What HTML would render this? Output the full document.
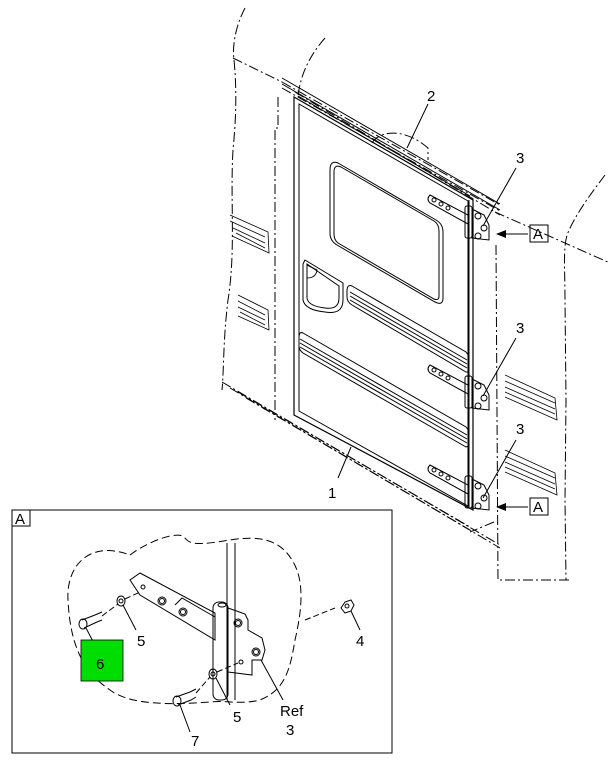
<!DOCTYPE html>
<html><head><meta charset="utf-8"><style>
html,body{margin:0;padding:0;background:#fff;width:610px;height:761px;overflow:hidden}
svg{display:block}
text{font-family:"Liberation Sans",sans-serif;font-size:15px;fill:#000}
</style></head><body>
<svg width="610" height="761" viewBox="0 0 610 761" xmlns="http://www.w3.org/2000/svg">
<g fill="none" stroke="#000" stroke-width="1">
<g stroke-dasharray="10,3,2,3">
<path d="M245,8 C236,25 232,45 234,60 C237,90 236,120 233,150 C230,200 236,250 228,300 C223,340 224,370 222,390"/>
<path d="M325,38 C310,55 300,75 298,97"/>
<path d="M233,58 L282,82"/>
<path d="M278,97 L278,128 L275,128 L275,420"/>
<path d="M222,382 L500,545"/>
<path d="M230,388 L500,548"/>
<path d="M238,392 L470,527"/>
<path d="M246,398 L470,530"/>
<path d="M282,82 L500,205"/>
<path d="M282,88 L500,211"/>
<path d="M295,92 L500,215"/>
<path d="M495,212 L610,263"/>
<path d="M605,175 C590,195 575,215 567,235 C563,250 565,270 565,300 L566,400 L565,500 L566,580"/>
<path d="M496,245 L498,580 L570,580"/>
<path d="M494,522 L470,532"/>
<path d="M372,143 C380,130 405,128 428,148 L428,160"/>
</g>
<g stroke-width="0.8">
<path d="M230,215 L268,232 L269,253 L232,236"/>
<path d="M230,221 L265,237 M233,228 L265,243 M236,233 L265,248"/>
<path d="M238,295 L268,310 L269,330 L238,316"/>
<path d="M238,301 L265,315 M238,307 L265,320 M240,312 L265,325"/>
<path d="M505,375 L555,398 L557,420 L505,397"/>
<path d="M505,381 L555,403 M505,387 L555,409 M505,392 L555,414"/>
<path d="M505,450 L555,473 L557,495 L505,472"/>
<path d="M505,456 L555,478 M505,462 L555,484 M505,467 L555,489"/>
</g>
<path d="M294,97 L473,200 L473,510 L294,415 Z" stroke-width="1.2"/>
<path d="M299,104 L468,201 L468,506 L299,411 Z"/>
<path d="M469,200 L469,508"/>
<path d="M282,78 L500,204 M282,84 L500,210 M298,96 L470,196"/>
<path d="M338,163 L436,220 Q443,224 443,232 L443,298 Q443,306 435,302 L337,245 Q330,241 330,233 L330,170 Q330,160 338,163 Z"/>
<path d="M341,167 L434,221 Q439,224 439,231 L439,296 Q439,301 434,299 L338,243 Q334,240 334,234 L334,172 Q334,164 341,167 Z"/>
<path d="M305,260 L343,283 L343,300 Q343,315 325,312 Q305,310 303,300 L303,264 Z"/>
<path d="M307,264 L339,286 L339,298 Q339,310 325,308 Q308,306 307,298 Z"/>
<path d="M307,265 L317,270 Q316,278 307,278"/>
<path d="M352,286 L466,352 L469,356 L469,372 L466,372 L352,305 Q347,302 347,297 L347,291 Q347,284 352,286 Z"/>
<path d="M350,292 L467,360 M350,296 L467,364 M350,300 L467,368"/>
<path d="M303,333 L466,427 L469,431 L469,446 L466,447 L303,353 Q299,350 299,346 L299,338 Q299,331 303,333 Z"/>
<path d="M300,339 L467,435 M300,343 L467,439 M300,347 L467,443"/>
<g id="h">
<path d="M430,195 L468,215 L468,224 L430,203 Q426,199 430,195Z"/>
<circle cx="434" cy="200" r="2"/><circle cx="441" cy="204" r="2"/><circle cx="448" cy="208" r="2"/>
<rect x="465" y="206" width="7" height="32" rx="2"/>
<path d="M472,209 L484,215 L489,225 L489,240 L472,238 Z"/>
<circle cx="478" cy="216" r="3"/><circle cx="484" cy="228" r="3"/><circle cx="478" cy="236" r="3"/>
</g>
<use href="#h" transform="translate(0,170)"/>
<use href="#h" transform="translate(0,270)"/>
<path d="M428,104 L407,148"/>
<path d="M516,168 L483,226"/>
<path d="M516,338 L483,396"/>
<path d="M516,440 L483,498"/>
<path d="M351,447 L338,478"/>
<path d="M528,234 L504,234 M528,507 L504,507"/>
<rect x="530" y="225" width="18" height="17"/>
<rect x="530" y="498" width="18" height="17"/>
<rect x="12" y="510" width="380" height="243"/>
<rect x="12" y="510" width="18" height="16"/>
<path stroke-dasharray="8,4" d="M130,555 C150,540 180,530 185,538 C190,545 200,545 230,540 C260,535 280,540 292,560 C305,580 302,610 295,640 C290,670 285,690 260,700 C240,705 225,700 210,702 C170,705 130,705 110,690 C80,670 70,640 68,600 C66,565 90,540 130,555 Z"/>
<path d="M227,543 L227,700 M235,543 L235,700"/>
<path d="M140,573 L215,613 L215,640 L140,595 L130,580 Z"/>
<circle cx="143" cy="587" r="2"/>
<circle cx="162" cy="601" r="4"/><circle cx="162" cy="601" r="2.5"/>
<path d="M175,605 L182,598 L215,617"/>
<circle cx="183" cy="612" r="4"/><circle cx="183" cy="612" r="2.5"/>
<rect x="213" y="602" width="15" height="98" rx="6"/>
<ellipse cx="222" cy="605" rx="4" ry="2"/>
<path d="M228,608 L245,614 L248,620 L248,630 L262,638 L265,650 L262,660 L252,660 L252,675 L228,672"/>
<circle cx="238" cy="623" r="4"/><circle cx="238" cy="623" r="2.5"/>
<circle cx="256" cy="652" r="4"/><circle cx="256" cy="652" r="2.5"/>
<circle cx="241" cy="662" r="2"/>
<ellipse cx="121" cy="601" rx="4" ry="5"/><circle cx="121" cy="601" r="2"/>
<ellipse cx="213" cy="674" rx="4" ry="5"/><circle cx="213" cy="674" r="2"/>
<path d="M345,602 L351,600 L354,605 L351,611 L345,613 L341,608 Z"/><circle cx="347" cy="606" r="2"/>
<path d="M82,620 L95,615 L102,612 M84,628 L97,622 L102,620"/>
<ellipse cx="83" cy="624" rx="4" ry="5"/>
<path d="M176,697 L190,692 L196,689 M178,705 L191,700 L196,697"/>
<ellipse cx="177" cy="701" rx="4" ry="5"/>
<path stroke-dasharray="6,3" d="M102,616 L118,604 M125,599 L140,592 M196,693 L210,677 M217,672 L238,663 M305,620 L335,608"/>
<path d="M123,605 L136,630 M86,628 L98,651 M216,678 L230,705 M180,705 L190,732 M351,611 L360,630 M261,660 L283,700"/>
</g>
<path d="M496,234 L506,230 L506,238 Z M496,507 L506,503 L506,511 Z" fill="#000"/>
<rect x="81" y="640" width="42" height="41" fill="#00dd00" stroke="#000" stroke-width="0.8"/>
<text x="427" y="101">2</text>
<text x="516" y="163">3</text>
<text x="516" y="333">3</text>
<text x="516" y="434">3</text>
<text x="328" y="498">1</text>
<text x="533" y="239">A</text>
<text x="533" y="512">A</text>
<text x="15" y="524">A</text>
<text x="137" y="646">5</text>
<text x="96" y="669" fill="#333">6</text>
<text x="233" y="722">5</text>
<text x="191" y="746">7</text>
<text x="356" y="646">4</text>
<text x="280" y="716">Ref</text>
<text x="286" y="735">3</text>
</svg>
</body></html>
